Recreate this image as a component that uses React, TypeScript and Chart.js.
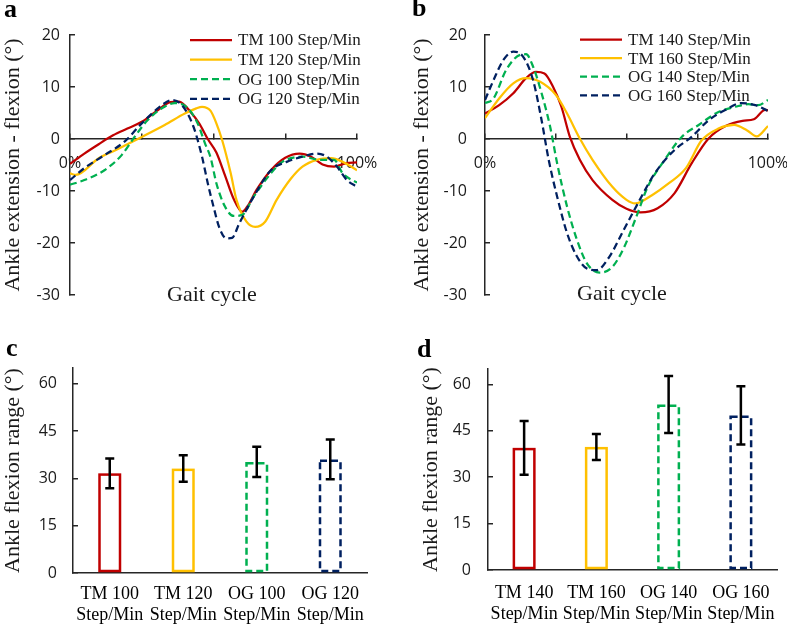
import React, { useEffect, useRef } from "react";
import { Chart, registerables } from "chart.js";

Chart.register(...registerables);

const SERIF = "'Liberation Serif', 'Times New Roman', serif";
const SANS = "'Open Sans', 'Liberation Sans', sans-serif";
const AXIS = "#262626";
const TXT = "#1a1a1a";

const RED = "#C00000";
const YELLOW = "#FFC000";
const GREEN = "#00B050";
const NAVY = "#002060";
const DASH = [7, 4];

// ---------- Panel a : ankle angle over gait cycle (100 / 120 step/min) ----------
const namesA = ["TM 100 Step/Min", "TM 120 Step/Min", "OG 100 Step/Min", "OG 120 Step/Min"];
const tm100Pct = [0, 5, 10, 15, 20, 25, 30, 35, 38, 42, 45, 48, 51, 54, 57, 60, 62, 65, 70, 75, 80, 84, 88, 92, 96, 100];
const tm100Deg = [-4.8, -2.8, -1.0, 0.7, 2.0, 3.3, 5.3, 7.1, 7.2, 5.2, 3.0, 0, -2.6, -7.0, -11.5, -14.0, -12.8, -9.8, -6.0, -3.6, -2.8, -3.4, -4.9, -5.3, -4.7, -4.5];
const tm120Pct = [0, 2, 10, 16, 25, 33, 40, 44, 46, 49, 51, 53, 56, 58, 61.5, 64.5, 68, 72, 77, 81, 86, 91, 95, 100];
const tm120Deg = [-6.6, -6.9, -3.7, -2.1, 0.4, 2.7, 4.9, 5.9, 6.2, 5.4, 3.0, -0.2, -6.6, -11.7, -15.9, -16.9, -15.9, -11.7, -7.6, -5.3, -4.0, -3.7, -4.4, -6.0];
const og100Pct = [0, 5, 12, 18, 22.5, 27, 32, 36.5, 40.5, 44.5, 47, 49, 51, 54, 57, 60, 64, 70, 74, 81, 87, 92, 95, 100];
const og100Deg = [-8.8, -7.9, -6.0, -3.1, 0.4, 3.6, 5.9, 6.9, 6.2, 3.0, -0.8, -3.6, -8.5, -13.0, -14.8, -14.6, -11.1, -6.6, -4.4, -3.4, -4.0, -4.0, -6.6, -8.4];
const og120Pct = [0, 5, 12, 19, 25, 32, 35.5, 39, 43, 46, 48, 50, 52, 54.5, 56.5, 59, 64, 70, 75.5, 81, 86, 89.5, 93, 96.5, 100];
const og120Deg = [-7.9, -5.6, -3.1, -0.5, 3.0, 6.5, 7.5, 6.5, 2.4, -3.4, -8.5, -13.0, -17.0, -19.1, -19.0, -16.2, -11.1, -6.0, -4.4, -3.4, -2.8, -3.4, -5.3, -7.9, -9.2];

// ---------- Panel b : ankle angle over gait cycle (140 / 160 step/min) ----------
const namesB = ["TM 140 Step/Min", "TM 160 Step/Min", "OG 140 Step/Min", "OG 160 Step/Min"];
const tm140Pct = [0, 5, 10, 14.5, 18, 21, 24, 27, 30, 33.5, 38, 45, 50, 55, 61, 67, 73, 79, 85, 91, 95, 99, 100];
const tm140Deg = [4.9, 6.5, 8.8, 11.7, 12.9, 12.6, 10.1, 6.2, 0.4, -4.0, -7.9, -11.7, -13.4, -14.1, -13.3, -10.4, -4.7, 0.1, 2.5, 3.5, 3.8, 5.6, 5.5];
const tm160Pct = [0, 5, 10, 14.5, 19.5, 25, 29, 33.5, 38, 45, 50, 53, 59, 65, 71, 76.5, 82.5, 88, 92.5, 96, 100];
const tm160Deg = [4.0, 7.8, 10.7, 11.7, 11.0, 8.5, 4.9, 0.1, -4.0, -9.2, -11.7, -12.4, -10.8, -8.5, -5.6, -0.3, 2.0, 2.7, 1.7, 0.5, 2.5];
const og140Pct = [0, 3, 7.5, 12.5, 14.5, 17, 20, 23, 25.5, 29, 32.5, 36, 40.5, 45, 49, 53.5, 57.5, 63.5, 69.5, 75.5, 82.5, 88.5, 93, 96.5, 100];
const og140Deg = [6.9, 7.8, 13.3, 16.2, 16.3, 13.9, 8.8, 2.4, -4.7, -13.0, -19.4, -23.9, -25.7, -24.6, -21.0, -14.9, -9.2, -4.0, 0.4, 2.7, 5.2, 6.2, 6.7, 6.5, 7.5];
const og160Pct = [0, 3, 6.5, 10, 13.5, 17, 20, 22.5, 25.5, 29, 32.5, 36, 39.5, 44, 49, 54, 60, 67, 73, 79, 85, 90.5, 95.5, 100];
const og160Deg = [7.5, 11.3, 15.2, 16.8, 15.8, 11.3, 3.6, -4.0, -11.1, -18.1, -22.6, -24.9, -25.2, -22.6, -17.5, -12.4, -6.6, -2.1, 0.4, 3.6, 5.6, 6.9, 6.5, 5.4];

// ---------- Panels c and d : ankle flexion range ----------
const catsC = [["TM 100", "Step/Min"], ["TM 120", "Step/Min"], ["OG 100", "Step/Min"], ["OG 120", "Step/Min"]];
const meansC = [31.6, 33.1, 35.2, 36.0];
const errsC = [4.7, 4.2, 4.8, 6.3];
const catsD = [["TM 140", "Step/Min"], ["TM 160", "Step/Min"], ["OG 140", "Step/Min"], ["OG 160", "Step/Min"]];
const meansD = [39.5, 39.8, 53.5, 50.0];
const errsD = [8.7, 4.2, 9.2, 9.4];

const lineTitle = "Ankle extension - flexion (°)";
const barTitle = "Ankle flexion range (°)";
const seriesColors = [RED, YELLOW, GREEN, NAVY];
const seriesDashes = [[], [], DASH, DASH];

const insideLegend = {
  id: "insideLegend",
  afterDraw(chart: any, _args: any, opts: any) {
    if (!opts || !opts.show) return;
    const ctx = chart.ctx;
    ctx.save();
    ctx.font = opts.font;
    ctx.textBaseline = "middle";
    ctx.textAlign = "left";
    chart.data.datasets.forEach((ds: any, i: number) => {
      const y = opts.y + i * opts.row;
      ctx.beginPath();
      ctx.setLineDash(ds.borderDash || []);
      ctx.strokeStyle = ds.borderColor;
      ctx.lineWidth = ds.borderWidth;
      ctx.moveTo(opts.x, y);
      ctx.lineTo(opts.x + opts.len, y);
      ctx.stroke();
      ctx.setLineDash([]);
      ctx.fillStyle = TXT;
      ctx.fillText(ds.label, opts.x + opts.len + opts.gap, y + 1);
    });
    ctx.restore();
  },
};

function makeBarPlugin(means: number[], errs: number[]) {
  return {
    id: "barDecor",
    afterDatasetsDraw(chart: any) {
      const meta = chart.getDatasetMeta(0);
      const yScale = chart.scales.y;
      const ctx = chart.ctx;
      ctx.save();
      meta.data.forEach((bar: any, i: number) => {
        const { x, y, base, width } = bar.getProps(["x", "y", "base", "width"], true);
        const lw = 2.5;
        ctx.lineWidth = lw;
        ctx.strokeStyle = seriesColors[i];
        ctx.setLineDash(seriesDashes[i]);
        ctx.strokeRect(x - width / 2 + lw / 2, y + lw / 2, width - lw, base - y - lw);
        ctx.setLineDash([]);
        const hi = yScale.getPixelForValue(means[i] + errs[i]);
        const lo = yScale.getPixelForValue(means[i] - errs[i]);
        ctx.strokeStyle = "#000";
        ctx.lineWidth = 2.5;
        ctx.beginPath();
        ctx.moveTo(x, hi);
        ctx.lineTo(x, lo);
        ctx.moveTo(x - 4.5, hi);
        ctx.lineTo(x + 4.5, hi);
        ctx.moveTo(x - 4.5, lo);
        ctx.lineTo(x + 4.5, lo);
        ctx.stroke();
      });
      ctx.restore();
    },
  };
}

function lineConfig(
  names: string[],
  pcts: number[][],
  degs: number[][],
  padLeft: number,
  axisWidth: number,
  padRight: number,
  yTickPad: number,
  legend: any
) {
  return {
    type: "line",
    data: {
      datasets: names.map((name, k) => ({
        label: name,
        data: pcts[k].map((p, i) => ({ x: p, y: degs[k][i] })),
        borderColor: seriesColors[k],
        borderWidth: 2.25,
        borderDash: seriesDashes[k],
        pointRadius: 0,
        fill: false,
        cubicInterpolationMode: "monotone",
        order: 3 - k,
      })),
    },
    options: {
      responsive: false,
      animation: false,
      events: [],
      layout: { padding: { left: padLeft, top: 35, right: padRight, bottom: 15 } },
      plugins: { legend: { display: false }, tooltip: { enabled: false }, insideLegend: legend },
      scales: {
        x: {
          type: "linear",
          min: 0,
          max: 100,
          position: { y: 0 },
          afterFit: (s: any) => {
            s.paddingLeft = 0;
            s.paddingRight = 0;
          },
          grid: { drawOnChartArea: false, tickLength: -6, color: AXIS, lineWidth: 1.5 },
          border: { color: AXIS, width: 1.5 },
          ticks: {
            stepSize: 25,
            autoSkip: false,
            maxRotation: 0,
            padding: 21,
            color: TXT,
            font: { family: SANS, size: 16 },
            callback: (v: number) => (v === 0 ? "0%" : v === 100 ? "100%" : ""),
          },
        },
        y: {
          type: "linear",
          min: -30,
          max: 20,
          position: "left",
          afterFit: (s: any) => {
            s.width = axisWidth;
            s.paddingTop = 0;
            s.paddingBottom = 0;
          },
          grid: { drawOnChartArea: false, tickLength: -5, color: AXIS, lineWidth: 1.5 },
          border: { color: AXIS, width: 1.5 },
          ticks: { stepSize: 10, padding: yTickPad, color: TXT, font: { family: SANS, size: 16 } },
          title: {
            display: true,
            text: lineTitle,
            color: TXT,
            padding: 0,
            font: { family: SERIF, size: 22, lineHeight: 1.2 },
          },
        },
      },
    },
    plugins: [insideLegend],
  };
}

function barConfig(
  cats: string[][],
  means: number[],
  errs: number[],
  padLeft: number,
  padTop: number,
  padRight: number,
  axisWidth: number,
  axisHeight: number,
  yTickPad: number,
  xTickPad: number
) {
  return {
    type: "bar",
    data: {
      labels: cats,
      datasets: [
        {
          data: means,
          backgroundColor: "rgba(0,0,0,0)",
          borderWidth: 0,
          barThickness: 23,
        },
      ],
    },
    options: {
      responsive: false,
      animation: false,
      events: [],
      layout: { padding: { left: padLeft, top: padTop, right: padRight, bottom: 0 } },
      plugins: { legend: { display: false }, tooltip: { enabled: false } },
      scales: {
        x: {
          afterFit: (s: any) => {
            s.height = axisHeight;
            s.paddingLeft = 0;
            s.paddingRight = 0;
          },
          grid: { display: true, drawOnChartArea: false, drawTicks: false, color: AXIS },
          border: { color: AXIS, width: 1.5 },
          ticks: {
            autoSkip: false,
            maxRotation: 0,
            padding: xTickPad,
            color: "#000",
            font: { family: SERIF, size: 18, lineHeight: 1.15 },
          },
        },
        y: {
          min: 0,
          max: 65,
          afterFit: (s: any) => {
            s.width = axisWidth;
            s.paddingTop = 0;
            s.paddingBottom = 0;
          },
          grid: { drawOnChartArea: false, tickLength: -5, color: AXIS, lineWidth: 1.5 },
          border: { color: AXIS, width: 1.5 },
          ticks: {
            stepSize: 15,
            includeBounds: false,
            padding: yTickPad,
            color: TXT,
            font: { family: SANS, size: 16 },
          },
          title: {
            display: true,
            text: barTitle,
            color: TXT,
            padding: 0,
            font: { family: SERIF, size: 22, lineHeight: 1.2 },
          },
        },
      },
    },
    plugins: [makeBarPlugin(means, errs)],
  };
}

function ChartBox(props: { left: number; top: number; width: number; height: number; build: () => any }) {
  const ref = useRef<HTMLCanvasElement | null>(null);
  useEffect(() => {
    const chart = new Chart(ref.current as HTMLCanvasElement, props.build());
    return () => chart.destroy();
  }, []);
  return (
    <canvas
      ref={ref}
      width={props.width}
      height={props.height}
      style={{ position: "absolute", left: props.left, top: props.top, width: props.width, height: props.height, display: "block" }}
    />
  );
}

const letterStyle: React.CSSProperties = {
  position: "absolute",
  fontFamily: SERIF,
  fontWeight: "bold",
  fontSize: 26,
  lineHeight: "26px",
  color: "#000",
};
const gaitStyle: React.CSSProperties = {
  position: "absolute",
  width: 200,
  textAlign: "center",
  fontFamily: SERIF,
  fontSize: 22,
  lineHeight: "22px",
  color: TXT,
};

export default function App() {
  const legendOpts = (x: number, y: number, row: number) => ({
    show: true,
    x,
    y,
    row,
    len: 42,
    gap: 6,
    font: `17px ${SERIF}`,
  });
  return (
    <div style={{ position: "fixed", left: 0, top: 0, width: 787, height: 626, background: "#fff", overflow: "hidden" }}>
      <ChartBox
        left={0}
        top={0}
        width={390}
        height={310}
        build={() =>
          lineConfig(namesA, [tm100Pct, tm120Pct, og100Pct, og120Pct], [tm100Deg, tm120Deg, og100Deg, og120Deg], 0, 70, 33, 15, legendOpts(190, 40, 19.6))
        }
      />
      <ChartBox
        left={390}
        top={0}
        width={397}
        height={310}
        build={() =>
          lineConfig(namesB, [tm140Pct, tm160Pct, og140Pct, og160Pct], [tm140Deg, tm160Deg, og140Deg, og160Deg], 19, 76, 19, 23, legendOpts(190, 39.5, 18.6))
        }
      />
      <ChartBox left={0} top={310} width={390} height={316} build={() => barConfig(catsC, meansC, errsC, 0, 58, 23, 73, 53, 21, 11)} />
      <ChartBox left={390} top={310} width={397} height={316} build={() => barConfig(catsD, meansD, errsD, 28, 59, 10, 70, 56, 22, 13)} />
      <div style={{ ...letterStyle, left: 4, top: -4 }}>a</div>
      <div style={{ ...letterStyle, left: 412, top: -5 }}>b</div>
      <div style={{ ...letterStyle, left: 6, top: 335 }}>c</div>
      <div style={{ ...letterStyle, left: 417, top: 336 }}>d</div>
      <div style={{ ...gaitStyle, left: 112, top: 283 }}>Gait cycle</div>
      <div style={{ ...gaitStyle, left: 522, top: 282 }}>Gait cycle</div>
    </div>
  );
}
